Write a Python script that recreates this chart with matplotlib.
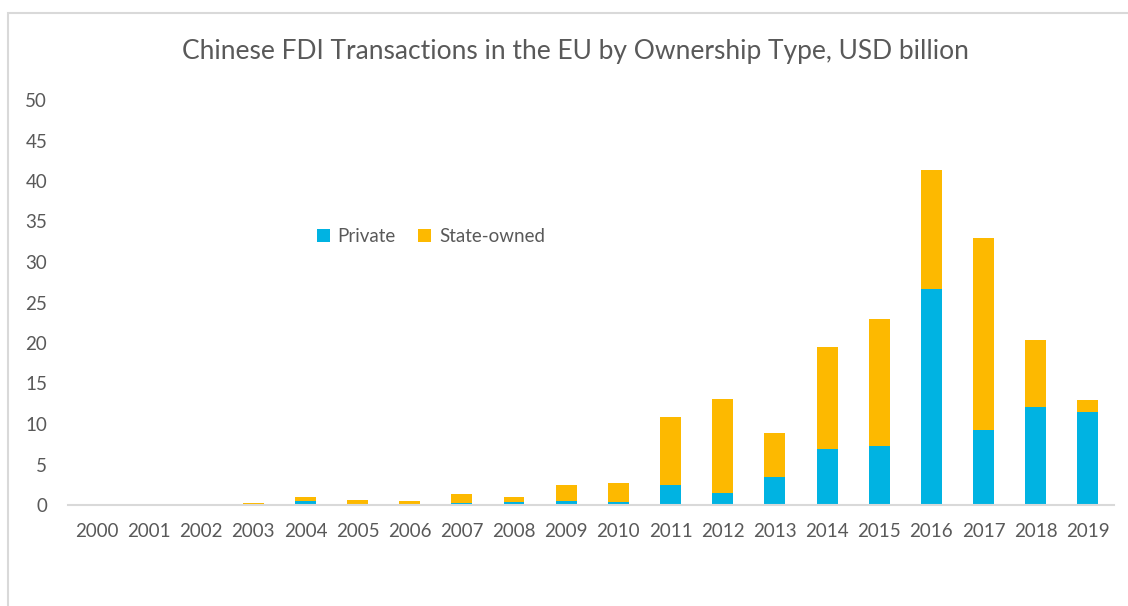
import numpy as np
import matplotlib.pyplot as plt
from matplotlib.patches import Rectangle

plt.rcParams['font.family'] = ['Lato', 'DejaVu Sans']

years = [str(y) for y in range(2000, 2020)]
private = [0, 0, 0, 0, 0.5, 0.05, 0.05, 0.2, 0.35, 0.5, 0.35,
           2.5, 1.5, 3.4, 6.9, 7.3, 26.7, 9.3, 12.1, 11.5]
total = [0, 0, 0, 0.25, 0.95, 0.6, 0.5, 1.36, 0.95, 2.5, 2.7,
         10.9, 13.1, 8.9, 19.5, 23.0, 41.4, 33.0, 20.4, 13.0]
state = [t - p for t, p in zip(total, private)]

blue = '#00B3E2'
gold = '#FDB900'
grey = '#595959'

fig = plt.figure(figsize=(11.28, 6.06), dpi=100)
# light frame round the chart
fig.patches.append(Rectangle((8/1128, -0.1), 1.2, 1 - 13/606 + 0.1,
                             transform=fig.transFigure, fill=False,
                             edgecolor='#D9D9D9', linewidth=1.5))

ax = fig.add_axes([68/1128, 1 - 505/606, (1114 - 68)/1128, 405/606])
x = np.arange(len(years))
ax.bar(x, private, width=0.4, color=blue, label='Private')
ax.bar(x, state, width=0.4, bottom=private, color=gold, label='State-owned')

ax.set_xlim(-0.55, 19.5)
ax.set_ylim(0, 50)
ax.set_yticks(range(0, 51, 5))
ax.set_xticks(x)
ax.set_xticklabels(years)
ax.tick_params(length=0, labelsize=13.5, colors=grey)
ax.tick_params(axis='y', pad=15)
ax.tick_params(axis='x', pad=13)
for s in ['top', 'right', 'left']:
    ax.spines[s].set_visible(False)
ax.spines['bottom'].set_color('#D9D9D9')
ax.spines['bottom'].set_linewidth(1.5)

fig.text(575/1128, 1 - 52/606, 'Chinese FDI Transactions in the EU by Ownership Type, USD billion',
         ha='center', va='center', fontsize=19, color=grey)

ax.legend(loc='center', bbox_to_anchor=(0.347, 0.662), ncol=2, frameon=False,
          fontsize=13.5, labelcolor=grey, handlelength=0.7, handleheight=0.7,
          handletextpad=0.4, columnspacing=1.2)

fig.savefig('out.png', dpi=100)
